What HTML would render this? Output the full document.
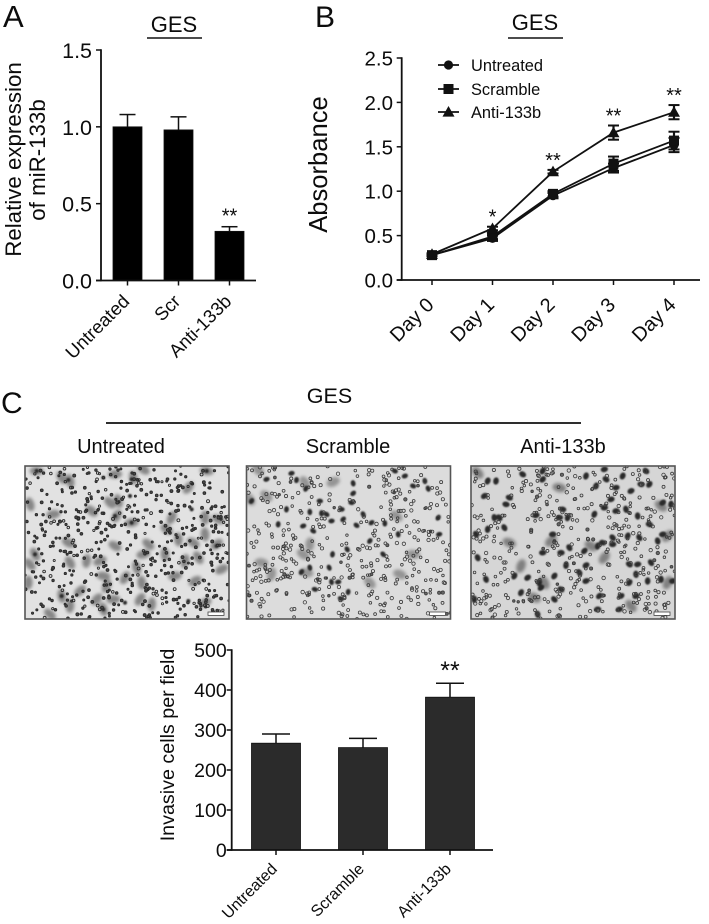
<!DOCTYPE html>
<html lang="en">
<head>
<meta charset="utf-8">
<title>GES figure</title>
<style>
html,body{margin:0;padding:0;background:#fff;width:709px;height:924px;overflow:hidden}
svg{display:block;font-family:"Liberation Sans",Arial,sans-serif;fill:#0c0c0c;filter:blur(0.3px)}
</style>
</head>
<body>
<svg id="fig" width="709" height="924" viewBox="0 0 709 924" xmlns="http://www.w3.org/2000/svg"></svg>
<script>
// ---------- Panel A data ----------
const aCategories = ['Untreated', 'Scr', 'Anti-133b'];
const aValues = [1.0, 0.98, 0.32];
const aErrors = [0.08, 0.085, 0.03];
const aStars = ['', '', '**'];
const aTicks = [0, 0.5, 1.0, 1.5];
// ---------- Panel B data ----------
const bDays = ['Day 0', 'Day 1', 'Day 2', 'Day 3', 'Day 4'];
const bUntreated = [0.28, 0.47, 0.95, 1.26, 1.52];
const bUntreatedErr = [0.01, 0.03, 0.03, 0.05, 0.08];
const bScramble = [0.28, 0.49, 0.97, 1.31, 1.57];
const bScrambleErr = [0.01, 0.03, 0.03, 0.08, 0.10];
const bAnti = [0.29, 0.58, 1.22, 1.66, 1.89];
const bAntiErr = [0.01, 0.02, 0.02, 0.08, 0.08];
const bStars = ['', '*', '**', '**', '**'];
const bTicks = [0, 0.5, 1.0, 1.5, 2.0, 2.5];
// ---------- Panel C data ----------
const cCategories = ['Untreated', 'Scramble', 'Anti-133b'];
const cValues = [267, 256, 382];
const cErrors = [23, 23, 35];
const cStars = ['', '', '**'];
const cTicks = [0, 100, 200, 300, 400, 500];

const NS = 'http://www.w3.org/2000/svg';
const fig = document.getElementById('fig');
function mk(tag, attrs, parent) {
  const el = document.createElementNS(NS, tag);
  for (const k in attrs) el.setAttribute(k, attrs[k]);
  (parent || fig).appendChild(el);
  return el;
}
function line(x1, y1, x2, y2, w, parent) {
  return mk('line', {x1: x1, y1: y1, x2: x2, y2: y2, stroke: '#111', 'stroke-width': w}, parent);
}
function txt(s, x, y, size, anchor, parent, rot) {
  const el = mk('text', {x: x, y: y, 'font-size': size, 'text-anchor': anchor || 'middle'}, parent);
  if (rot !== undefined) el.setAttribute('transform', 'rotate(' + rot + ' ' + x + ' ' + y + ')');
  el.textContent = s;
  return el;
}
function named(el, name) {
  
  
  return el;
}

// ---------- Headings ----------
named(txt('A', 3, 27, 31, 'start'), 'panel-a-label');
named(txt('B', 315, 27, 30, 'start'), 'panel-b-label');
named(txt('C', 1, 413, 30, 'start'), 'panel-c-label');
named(txt('GES', 174, 32, 22, 'middle'), 'panel-a-title');
named(line(147, 38, 202, 38, 1.6), 'panel-a-title-rule');
named(txt('GES', 535, 30, 22, 'middle'), 'panel-b-title');
named(line(508, 38, 563, 38, 1.6), 'panel-b-title-rule');
named(txt('GES', 329.5, 403, 21.5, 'middle'), 'panel-c-title');
named(line(106, 423, 581, 423, 1.8), 'panel-c-title-rule');
named(txt('Untreated', 121, 453, 20), 'image-title-untreated');
named(txt('Scramble', 348, 453, 20), 'image-title-scramble');
named(txt('Anti-133b', 563, 453, 20), 'image-title-anti-133b');

// ---------- Bar chart builder ----------
function barChart(o) {
  const g = named(mk('g', {}), o.name);
  const y = v => o.y0 - (v - 0) / o.max * (o.y0 - o.yTop);
  const x = i => o.x0 + i * o.step;
  o.values.forEach((v, i) => {
    const top = y(v), up = y(v + o.errors[i]);
    named(line(x(i), top, x(i), up, 1.5, g), 'error-bar-' + o.cats[i].toLowerCase());
    named(line(x(i) - o.cap / 2, up, x(i) + o.cap / 2, up, 1.5, g), 'error-cap-' + o.cats[i].toLowerCase());
    const bar = mk('rect', {x: x(i) - o.bw / 2, y: top, width: o.bw, height: o.y0 - top, fill: o.fill, stroke: '#111', 'stroke-width': 0.8}, g);
    named(bar, 'bar-' + o.cats[i].toLowerCase());
    if (o.stars[i]) {
      named(txt(o.stars[i], x(i), up + o.starDy, o.starSize, 'middle', g), 'significance-' + o.cats[i].toLowerCase());
    }
    named(line(x(i), o.y0, x(i), o.y0 + 5, 1.5, g), 'x-tick-' + o.cats[i].toLowerCase());
    named(txt(o.cats[i], x(i) + o.lblDx, o.y0 + o.lblDy, o.lblSize, 'end', g, -45), 'x-label-' + o.cats[i].toLowerCase());
  });
  named(line(o.axisX, o.yTop - 0.8, o.axisX, o.y0 + 0.8, 1.8, g), 'y-axis');
  named(line(o.axisX - 5, o.y0, o.xEnd, o.y0, 1.8, g), 'x-axis');
  o.ticks.forEach(t => {
    named(line(o.axisX - 5, y(t), o.axisX, y(t), 1.5, g), 'y-tick');
    named(txt(o.fmt(t), o.axisX - o.tickGap, y(t) + o.tickDy, o.tickSize, 'end', g), 'y-tick-label');
  });
  return g;
}

const chartA = barChart({
  name: 'relative-expression-bar-chart', cats: aCategories, values: aValues, errors: aErrors, stars: aStars,
  ticks: aTicks, fmt: t => t.toFixed(1), max: 1.5, y0: 280.5, yTop: 50, x0: 127.5, step: 51, bw: 29, cap: 16,
  fill: '#000', axisX: 101, xEnd: 256, starDy: -4, starSize: 20, lblDx: 3, lblDy: 22, lblSize: 18.5, tickDy: 8, tickGap: 9, tickSize: 21.5
});
named(txt('Relative expression', 21, 159.5, 22.3, 'middle', chartA, -90), 'y-axis-title-line-1');
named(txt('of miR-133b', 45, 160, 22.3, 'middle', chartA, -90), 'y-axis-title-line-2');

const chartC = barChart({
  name: 'invasive-cells-bar-chart', cats: cCategories, values: cValues, errors: cErrors, stars: cStars,
  ticks: cTicks, fmt: t => String(t), max: 500, y0: 850, yTop: 650, x0: 276, step: 87, bw: 49, cap: 28,
  fill: '#2b2b2b', axisX: 231.7, xEnd: 493, starDy: -4, starSize: 25, lblDx: 2, lblDy: 20, lblSize: 16, tickDy: 7, tickGap: 5, tickSize: 19.5
});
named(txt('Invasive cells per field', 174, 745, 19.7, 'middle', chartC, -90), 'y-axis-title');

// ---------- Line chart ----------
(function () {
  const g = named(mk('g', {}), 'absorbance-line-chart');
  const y = v => 280 - v / 2.5 * 222;
  const x = i => 432 + i * 60.5;
  const series = [
    {name: 'untreated', label: 'Untreated', vals: bUntreated, errs: bUntreatedErr, mark: 'circle', ly: 65},
    {name: 'scramble', label: 'Scramble', vals: bScramble, errs: bScrambleErr, mark: 'square', ly: 89},
    {name: 'anti-133b', label: 'Anti-133b', vals: bAnti, errs: bAntiErr, mark: 'triangle', ly: 112}
  ];
  function marker(kind, cx, cy, parent) {
    if (kind === 'circle') return mk('circle', {cx: cx, cy: cy, r: 4.6, fill: '#111'}, parent);
    if (kind === 'square') return mk('rect', {x: cx - 5, y: cy - 5, width: 10, height: 10, fill: '#111'}, parent);
    return mk('polygon', {points: (cx - 6) + ',' + (cy + 4.6) + ' ' + (cx + 6) + ',' + (cy + 4.6) + ' ' + cx + ',' + (cy - 6), fill: '#111'}, parent);
  }
  series.forEach(s => {
    const sg = named(mk('g', {}, g), 'series-' + s.name);
    const pts = s.vals.map((v, i) => x(i) + ',' + y(v)).join(' ');
    named(mk('polyline', {points: pts, fill: 'none', stroke: '#111', 'stroke-width': 1.8}, sg), 'line-' + s.name);
    s.vals.forEach((v, i) => {
      const e = s.errs[i];
      named(line(x(i), y(v - e), x(i), y(v + e), 2.2, sg), 'error-bar-' + s.name);
      named(line(x(i) - 5.5, y(v + e), x(i) + 5.5, y(v + e), 2, sg), 'error-cap-' + s.name);
      named(line(x(i) - 5.5, y(v - e), x(i) + 5.5, y(v - e), 2, sg), 'error-cap-' + s.name);
      named(marker(s.mark, x(i), y(v), sg), 'point-' + s.name);
    });
    const lg = named(mk('g', {}, g), 'legend-entry-' + s.name);
    named(line(438, s.ly, 459, s.ly, 1.8, lg), 'legend-line-' + s.name);
    named(marker(s.mark, 448.5, s.ly, lg), 'legend-marker-' + s.name);
    named(txt(s.label, 471, s.ly + 6, 16.4, 'start', lg), 'legend-label-' + s.name);
  });
  bStars.forEach((s, i) => {
    if (s) named(txt(s, x(i), y(bAnti[i] + bAntiErr[i]) - 3, 20, 'middle', g), 'significance-' + bDays[i].toLowerCase().replace(' ', '-'));
  });
  bDays.forEach((d, i) => {
    const slug = d.toLowerCase().replace(' ', '-');
    named(line(x(i), 280, x(i), 285, 1.5, g), 'x-tick-' + slug);
    named(txt(d, x(i) + 3, 306, 20, 'end', g, -45), 'x-label-' + slug);
  });
  named(line(401.7, 57.2, 401.7, 280.8, 1.8, g), 'y-axis');
  named(line(396.7, 280, 700, 280, 1.8, g), 'x-axis');
  bTicks.forEach(t => {
    named(line(396.7, y(t), 401.7, y(t), 1.5, g), 'y-tick');
    named(txt(t.toFixed(1), 393, y(t) + 7.5, 20.5, 'end', g), 'y-tick-label');
  });
  named(txt('Absorbance', 327, 164.5, 25.6, 'middle', g, -90), 'y-axis-title');
})();

// ---------- Micrographs (decorative photo texture) ----------
const defs = mk('defs', {});
const softA = mk('filter', {id: 'soft', x: '-20%', y: '-20%', width: '140%', height: '140%'}, defs);
mk('feGaussianBlur', {stdDeviation: 1.7}, softA);
const softB = mk('filter', {id: 'soft2', x: '-20%', y: '-20%', width: '140%', height: '140%'}, defs);
mk('feGaussianBlur', {stdDeviation: 0.7}, softB);
const cellSoft = mk('filter', {id: 'cellsoft', x: '-5%', y: '-5%', width: '110%', height: '110%'}, defs);
mk('feGaussianBlur', {stdDeviation: 0.2}, cellSoft);

function seeded(s) {
  return function () { s = (s * 16807) % 2147483647; return (s - 1) / 2147483646; };
}
function micrograph(o) {
  const W = 204, H = 153;
  const g = named(mk('g', {}), o.name);
  const clip = mk('clipPath', {id: o.name + '-clip'}, defs);
  mk('rect', {x: o.x, y: o.y, width: W, height: H}, clip);
  const inner = mk('g', {'clip-path': 'url(#' + o.name + '-clip)'}, g);
  mk('rect', {x: o.x, y: o.y, width: W, height: H, fill: o.bg}, inner);
  const rnd = seeded(o.seed);
  const gray = mk('g', {filter: 'url(#soft)'}, inner);
  o.gray.forEach(p => {
    const cx = o.x + p[0] / 3, cy = o.y + p[1] / 3;
    mk('ellipse', {cx: cx, cy: cy, rx: o.grayR[0], ry: o.grayR[1], fill: o.grayFill, transform: 'rotate(' + Math.floor(rnd() * 180) + ' ' + cx + ' ' + cy + ')'}, gray);
  });
  const dark = mk('g', {filter: 'url(#soft2)'}, inner);
  o.dark.forEach(p => {
    const cx = o.x + p[0] / 3, cy = o.y + p[1] / 3;
    mk('ellipse', {cx: cx, cy: cy, rx: o.darkR[0], ry: o.darkR[1], fill: '#2a2a2a', transform: 'rotate(' + Math.floor(rnd() * 180) + ' ' + cx + ' ' + cy + ')'}, dark);
  });
  const cells = mk('g', {filter: 'url(#cellsoft)'}, inner);
  for (let i = 0; i < o.count; i++) {
    const cx = o.x + rnd() * W, cy = o.y + rnd() * H, r = o.r + rnd() * 0.5;
    const filled = rnd() < o.filled;
    mk('circle', {cx: cx, cy: cy, r: r, fill: filled ? o.cellInner : 'none', stroke: o.cellStroke, 'stroke-width': o.sw}, cells);
  }
  const bar = mk('rect', {x: o.x + W - 21, y: o.y + H - 7, width: 16, height: 3.4, fill: '#fff', stroke: '#444', 'stroke-width': 0.8}, inner);
  named(bar, 'scale-bar');
  mk('rect', {x: o.x, y: o.y, width: W, height: H, fill: 'none', stroke: '#555', 'stroke-width': 1.6}, g);
}

micrograph({
  name: 'micrograph-untreated', x: 25, y: 466, bg: '#e2e2e2', seed: 1234, count: 540, r: 1.0, sw: 0.9, filled: 0.8,
  cellInner: '#4a4a4a', cellStroke: '#2a2a2a', darkR: [2, 2], grayFill: '#868686', grayR: [7, 4.3],
  dark: [[35,15],[130,42],[235,35],[320,40],[545,15],[315,90],[500,130],[270,150],[320,170],[30,265],[360,260],[110,390],[300,410],[235,430],[490,405],[575,240]],
  gray: [[35,15],[110,35],[135,45],[270,25],[325,35],[355,10],[545,15],[490,65],[255,110],[280,105],[200,135],[85,145],[15,115],[275,150],[320,170],[440,155],[425,190],[540,155],[580,160],[460,220],[505,230],[540,205],[575,235],[130,230],[270,240],[370,235],[420,265],[355,265],[30,265],[15,295],[135,290],[185,285],[225,285],[480,285],[520,275],[235,330],[300,335],[335,305],[450,330],[510,345],[590,310],[350,350],[165,375],[245,360],[265,400],[345,400],[110,390],[215,400],[135,420],[380,415],[540,410],[10,350],[235,430],[75,445]]
});
micrograph({
  name: 'micrograph-scramble', x: 246.5, y: 466, bg: '#dcdcdc', seed: 5678, count: 420, r: 1.25, sw: 0.8, filled: 0.06,
  cellInner: '#666', cellStroke: '#3c3c3c', darkR: [3.2, 2.4], grayFill: '#949494', grayR: [7, 4.5],
  dark: [[150,42],[178,68],[320,82],[15,105],[220,105],[120,130],[190,138],[225,142],[240,145],[285,130],[95,175],[170,180],[200,195],[255,165],[315,110],[350,145],[375,170],[290,160],[330,178],[415,172],[455,205],[370,225],[445,15],[475,30],[500,60],[545,68],[575,155],[578,205],[410,265],[258,265],[302,250],[165,318],[190,305],[248,305],[255,348],[275,348],[283,398],[305,378],[205,370],[135,22],[60,40],[320,52],[535,45]],
  gray: [[500,265],[260,48],[175,50],[450,150],[180,320],[370,350],[460,325],[75,325],[45,290],[170,265],[190,235],[35,12],[60,90],[10,100]]
});
micrograph({
  name: 'micrograph-anti-133b', x: 471, y: 466, bg: '#d6d6d6', seed: 9101, count: 420, r: 1.25, sw: 0.8, filled: 0.05,
  cellInner: '#666', cellStroke: '#3c3c3c', darkR: [3.7, 2.8], grayFill: '#808080', grayR: [7, 4.5],
  dark: [[50,45],[75,45],[40,90],[115,95],[105,115],[70,155],[100,185],[50,190],[15,205],[85,155],[195,148],[265,155],[290,155],[245,205],[295,245],[270,260],[285,298],[345,298],[340,255],[380,240],[425,235],[395,230],[425,215],[470,210],[535,175],[560,225],[575,205],[505,215],[475,295],[500,295],[540,290],[495,325],[530,345],[570,340],[475,350],[605,345],[385,390],[495,390],[450,390],[380,430],[445,430],[130,330],[45,340],[170,335],[205,350],[250,330],[270,370],[250,400],[150,380],[210,365],[10,400],[200,445],[215,15],[155,25],[215,40],[345,30],[405,40],[435,65],[510,55],[535,55],[455,30],[525,15],[400,10],[480,75],[575,110],[600,115],[375,60],[400,125],[435,135],[465,130],[370,145],[420,100],[500,150],[20,275],[215,260],[275,130],[345,345],[325,320]],
  gray: [[265,65],[115,230],[240,225],[360,240],[400,275],[590,210],[190,395],[220,350],[480,420],[590,350],[20,20],[570,120],[150,300]]
});
</script>
</body>
</html>
